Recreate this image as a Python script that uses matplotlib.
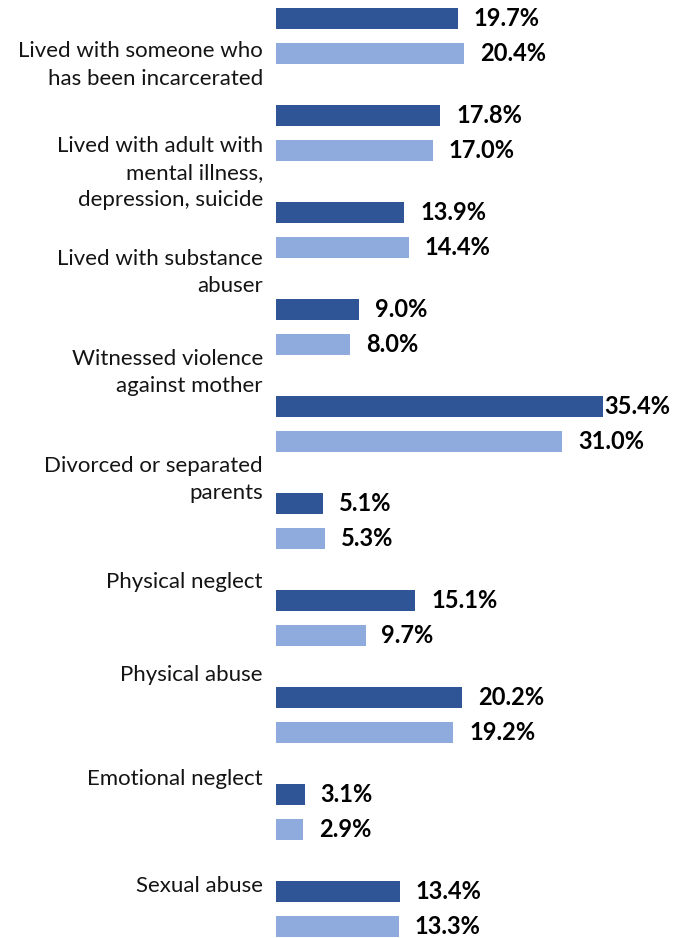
import matplotlib.pyplot as plt
import numpy as np

# groups listed bottom -> top
labels = [
    "Sexual abuse",
    "Emotional neglect",
    "Physical abuse",
    "Physical neglect",
    "Divorced or separated\nparents",
    "Witnessed violence\nagainst mother",
    "Lived with substance\nabuser",
    "Lived with adult with\nmental illness,\ndepression, suicide",
    "Lived with someone who\nhas been incarcerated",
]
dark_vals = [13.4, 3.1, 20.2, 15.1, 5.1, 35.4, 9.0, 13.9, 17.8, 19.7]
light_vals = [13.3, 2.9, 19.2, 9.7, 5.3, 31.0, 8.0, 14.4, 17.0, 20.4]

DARK = "#2F5597"
LIGHT = "#8FAADC"

# category text sits a little off the bar groups, as in the source chart
label_pos = [0.24, 1.34, 2.41, 3.37, 4.43, 5.53, 6.56, 7.59, 8.70]


def main():
    plt.rcParams["font.family"] = ["Lato", "DejaVu Sans"]
    fig = plt.figure(figsize=(6.89, 9.38), dpi=100)
    ax = fig.add_axes([276 / 689, 0, (670 - 276) / 689, 1])

    g = np.arange(len(dark_vals))
    off = 0.18
    h = 0.216
    ax.barh(g + off, dark_vals, height=h, color=DARK)
    ax.barh(g - off, light_vals, height=h, color=LIGHT)

    ax.set_xlim(0, 42.7)
    ax.set_ylim(-0.299, 9.371)

    anns = []
    for vals, dy in ((dark_vals, off), (light_vals, -off)):
        for i, v in enumerate(vals):
            a = ax.annotate(
                f"{v:.1f}%", xy=(v, i + dy), xytext=(11.5, 0),
                textcoords="offset points", ha="left", va="center",
                fontsize=17, fontweight="bold", color="black",
            )
            anns.append(a)

    ax.set_yticks(label_pos)
    ax.set_yticklabels(labels, fontsize=16, color="#141414")
    for t in ax.get_yticklabels():
        t.set_linespacing(1.45)
        t.set_verticalalignment("center")
    ax.tick_params(axis="y", length=0, pad=9.5)
    ax.set_xticks([])
    for s in ax.spines.values():
        s.set_visible(False)

    # push labels that run past the plot edge back inside
    fig.canvas.draw()
    right = ax.get_window_extent().x1
    for a in anns:
        bb = a.get_window_extent()
        if bb.x1 > right:
            over = (bb.x1 - right) * 72 / fig.dpi
            a.xyann = (max(1.5, 11.5 - over), 0)

    plt.savefig("out.png", dpi=100)
    plt.close()


if __name__ == "__main__":
    main()
